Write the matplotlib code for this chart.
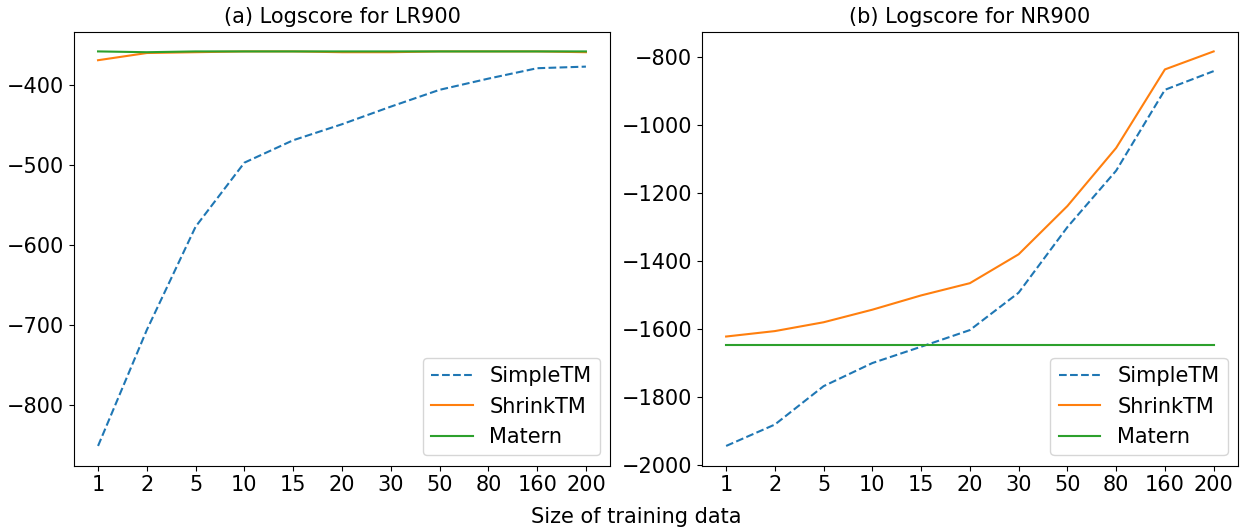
import matplotlib
matplotlib.use('Agg')
import matplotlib.pyplot as plt

# data
sizes = ['1', '2', '5', '10', '15', '20', '30', '50', '80', '160', '200']

lr_simple = [-851, -706, -577, -497, -469, -449, -427, -406, -392, -379, -377]
lr_shrink = [-369, -360, -359, -358, -358, -359, -359, -358, -358, -358, -359]
lr_matern = [-358, -359, -358, -358, -358, -358, -358, -358, -358, -358, -358]

nr_simple = [-1944, -1881, -1768, -1700, -1652, -1603, -1493, -1300, -1134, -896, -841]
nr_shrink = [-1622, -1606, -1580, -1543, -1501, -1465, -1380, -1238, -1067, -836, -783]
nr_matern = [-1647] * len(sizes)

titles = ['(a) Logscore for LR900', '(b) Logscore for NR900']

plt.rcParams['font.size'] = 15

fig = plt.figure(figsize=(12.44, 5.29), dpi=100)
ax1 = fig.add_axes([0.0592, 0.1197, 0.4314, 0.8204])
ax2 = fig.add_axes([0.5641, 0.1197, 0.4311, 0.8204])

for ax, simple, shrink, matern, title in [
    (ax1, lr_simple, lr_shrink, lr_matern, titles[0]),
    (ax2, nr_simple, nr_shrink, nr_matern, titles[1]),
]:
    x = range(len(sizes))
    ax.plot(x, simple, '--', color='C0', label='SimpleTM')
    ax.plot(x, shrink, '-', color='C1', label='ShrinkTM')
    ax.plot(x, matern, '-', color='C2', label='Matern')
    ax.set_xticks(list(x))
    ax.set_xticklabels(sizes)
    ax.set_title(title, fontsize=15)
    ax.legend(loc='lower right')

fig.text(0.5113, 0.023, 'Size of training data', ha='center', va='center', fontsize=15)

fig.savefig('out.png', dpi=100)
